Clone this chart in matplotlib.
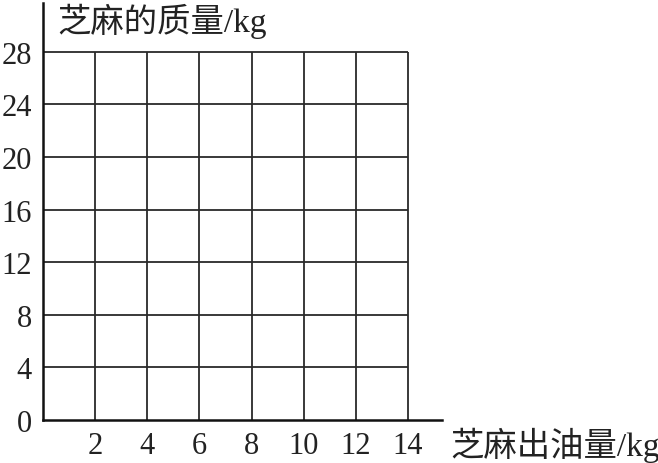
import matplotlib
matplotlib.use("Agg")
import matplotlib.pyplot as plt

# grid / tick values
x_ticks = [2, 4, 6, 8, 10, 12, 14]
y_ticks = [0, 4, 8, 12, 16, 20, 24, 28]
x_label = "芝麻出油量/kg"
y_label = "芝麻的质量/kg"

fonts = ['Liberation Serif', 'Noto Sans CJK SC']

fig = plt.figure(figsize=(6.58, 4.64), dpi=100)
W, H = 658, 464
ax = fig.add_axes([43 / W, (H - 421) / H, (442 - 43) / W, (421 - 4) / H])

ax.set_xlim(0, 15.3)
ax.set_ylim(0, 31.7)

ax.vlines(x_ticks, 0, max(y_ticks), colors='#2a2a2a', linewidth=1.3)
ax.hlines(y_ticks[1:], 0, max(x_ticks), colors='#2a2a2a', linewidth=1.3)

for s in ['top', 'right']:
    ax.spines[s].set_visible(False)
for s in ['left', 'bottom']:
    ax.spines[s].set_linewidth(1.8)
    ax.spines[s].set_color('#111111')

ax.set_xticks(x_ticks)
ax.set_yticks(y_ticks)
ax.set_xticklabels([str(v) for v in x_ticks], family=fonts, fontsize=22)
ax.set_yticklabels([str(v) for v in y_ticks], family=fonts, fontsize=22)
ax.tick_params(axis='x', length=0, pad=8, colors='#222222')
ax.tick_params(axis='y', length=0, pad=8, colors='#222222')

fig.text(57 / W, 1 - 21 / H, y_label, family=fonts, fontsize=24,
         va='center', ha='left', color='#222222')
fig.text(450 / W, 1 - 445 / H, x_label, family=fonts, fontsize=24,
         va='center', ha='left', color='#222222')

fig.savefig("out.png", dpi=100)
